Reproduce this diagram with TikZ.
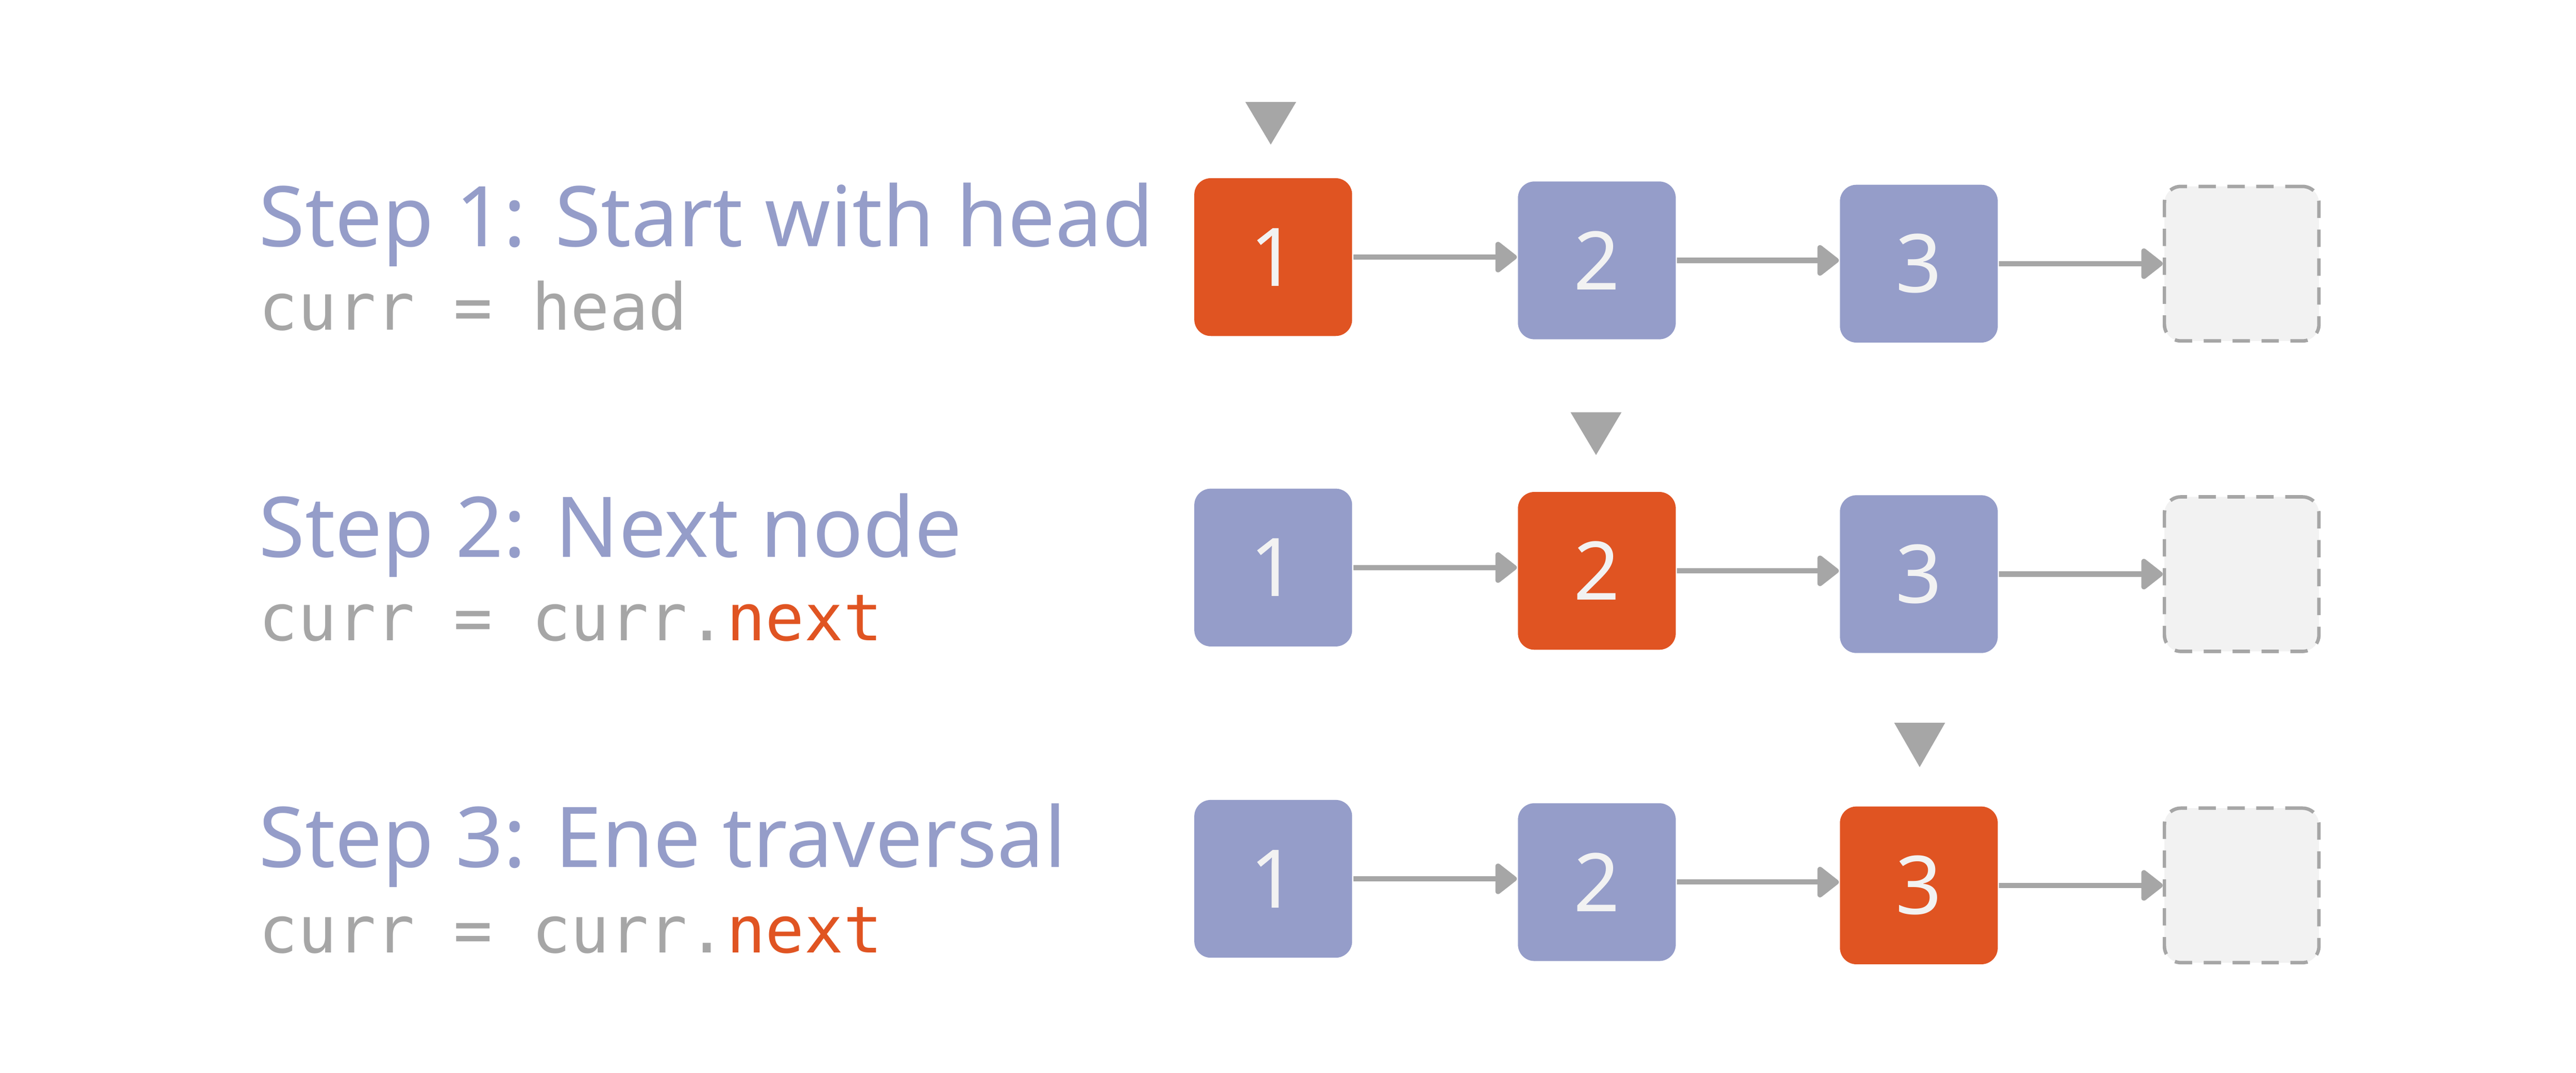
\documentclass[tikz,border=0pt]{standalone}
\usepackage{fontspec}
\setmainfont{Noto Sans}
\newfontfamily\codefont{DejaVu Sans Mono}
\usetikzlibrary{arrows.meta}
\definecolor{acc}{HTML}{E05422}
\definecolor{blu}{HTML}{959DC9}
\definecolor{gry}{HTML}{A6A6A6}
\definecolor{lgt}{HTML}{F2F2F2}
\begin{document}
\begin{tikzpicture}[x=0.01cm,y=-0.01cm,
  box/.style={minimum width=0.96cm,minimum height=0.96cm,rounded corners=0.1cm,inner sep=0pt,font=\fontsize{14}{14}\selectfont\bfseries,text=lgt},
  nb/.style={box,fill=blu},
  hb/.style={box,fill=acc},
  eb/.style={minimum width=0.94cm,minimum height=0.94cm,rounded corners=0.1cm,draw=gry,fill=lgt,dashed,line width=0.6pt,dash pattern=on 3pt off 2pt},
  lnk/.style={draw=gry,line width=0.9pt,-{Triangle[round,length=4pt,width=6pt]}},
  ptr/.style={fill=gry},
  head/.style={anchor=base west,inner sep=0pt,text=blu,font=\fontsize{14.5}{14}\selectfont},
  code/.style={anchor=base west,inner sep=0pt,text=gry,font=\codefont\fontsize{11.2}{12}\selectfont}]
\useasboundingbox[fill=white] (0,0) rectangle (1568,653);
% Row 1
\node[head] (h1) at (157,150) {\textbf{Step 1:} Start with head};
\node[code] (c1) at (157,201) {curr = head};
\node[hb] (a1) at (775,156.5) {1};
\node[nb] (b1) at (972,158.5) {2};
\node[nb] (d1) at (1168,160.5) {3};
\node[eb] (e1) at (1364.5,160.5) {};
\draw[lnk] (a1.east) -- (a1.east -| b1.west);
\draw[lnk] (b1.east) -- (b1.east -| d1.west);
\draw[lnk] (d1.east) -- (d1.east -| e1.west);
\fill[ptr] (758,62) -- (789,62) -- (773.5,88) -- cycle;
% Row 2
\node[head] (h2) at (157,339) {\textbf{Step 2:} Next node};
\node[code] (c2) at (157,390) {curr = curr.\textcolor{acc}{next}};
\node[nb] (a2) at (775,345.5) {1};
\node[hb] (b2) at (972,347.5) {2};
\node[nb] (d2) at (1168,349.5) {3};
\node[eb] (e2) at (1364.5,349.5) {};
\draw[lnk] (a2.east) -- (a2.east -| b2.west);
\draw[lnk] (b2.east) -- (b2.east -| d2.west);
\draw[lnk] (d2.east) -- (d2.east -| e2.west);
\fill[ptr] (956,251) -- (987,251) -- (971.5,277) -- cycle;
% Row 3
\node[head] (h3) at (157,528) {\textbf{Step 3:} Ene traversal};
\node[code] (c3) at (157,580) {curr = curr.\textcolor{acc}{next}};
\node[nb] (a3) at (775,535) {1};
\node[nb] (b3) at (972,537) {2};
\node[hb] (d3) at (1168,539) {3};
\node[eb] (e3) at (1364.5,539) {};
\draw[lnk] (a3.east) -- (a3.east -| b3.west);
\draw[lnk] (b3.east) -- (b3.east -| d3.west);
\draw[lnk] (d3.east) -- (d3.east -| e3.west);
\fill[ptr] (1153,440) -- (1184,440) -- (1168.5,467) -- cycle;
\end{tikzpicture}
\end{document}
